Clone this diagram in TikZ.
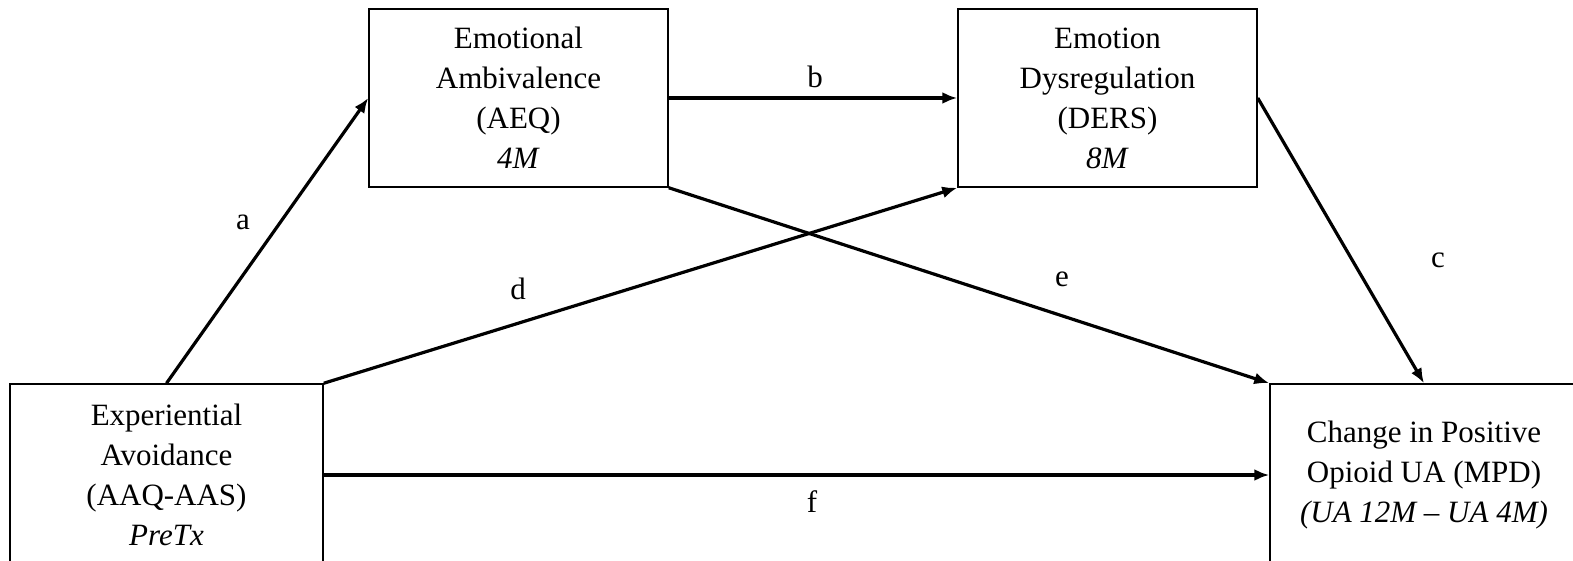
\documentclass[tikz,border=0pt]{standalone}
\usepackage{fontspec}
\setmainfont{Liberation Serif}
\usepackage{tikz}
\usetikzlibrary{arrows.meta, positioning}

\begin{document}
\begin{tikzpicture}[
        x=0.5pt,
        y=-0.5pt,
        varbox/.style={draw,line width=0.75pt,align=center,inner sep=0pt,
            font=\fontsize{15.5}{20}\selectfont},
        path/.style={-{Latex[length=7.5pt,width=6pt]},line width=1.6pt},
        lbl/.style={font=\fontsize{15.5}{20}\selectfont}
    ]
        \useasboundingbox (0,0) rectangle (1573,561);
        \clip (0,0) rectangle (1573,561);
        % variables
        \node[varbox,minimum width=156.5pt,minimum height=91pt] (ea) at (166.5,475)
            {Experiential\\Avoidance\\(AAQ-AAS)\\\textit{PreTx}};
        \node[varbox,minimum width=149.5pt,minimum height=89pt] (aeq) at (518.5,98)
            {Emotional\\Ambivalence\\(AEQ)\\\textit{4M}};
        \node[varbox,minimum width=149.5pt,minimum height=89pt] (ders) at (1107.5,98)
            {Emotion\\Dysregulation\\(DERS)\\\textit{8M}};
        \node[varbox,minimum width=154pt,minimum height=91pt] (mpd) at (1424,475)
            {Change in Positive\\Opioid UA (MPD)\\\textit{(UA 12M -- UA 4M)}};
        % paths
        \draw[path] (ea.north) -- (aeq.west);
        \draw[path] (aeq.east) -- (ders.west);
        \draw[path] (ders.east) -- (mpd.north);
        \draw[path] (ea.north east) -- (ders.south west);
        \draw[path] (aeq.south east) -- (mpd.north west);
        \draw[path] (ea.east) -- (mpd.west);
        % labels
        \node[lbl] (la) at (243,222) {a};
        \node[lbl] (lb) at (815,77) {b};
        \node[lbl] (lc) at (1438,260) {c};
        \node[lbl] (ld) at (518,289) {d};
        \node[lbl] (le) at (1062,279) {e};
        \node[lbl] (lf) at (812,502) {f};
    \end{tikzpicture}
\end{document}
